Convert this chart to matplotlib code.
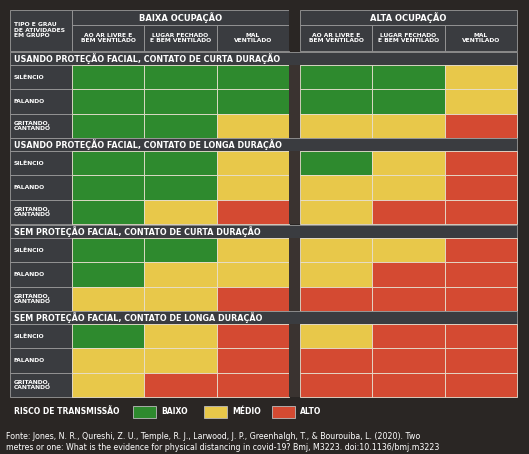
import matplotlib
matplotlib.use("Agg")
import matplotlib.pyplot as plt
from matplotlib.patches import Rectangle

groups = ["BAIXA OCUPAÇÃO", "ALTA OCUPAÇÃO"]
columns = ["AO AR LIVRE E\nBEM VENTILADO", "LUGAR FECHADO\nE BEM VENTILADO", "MAL\nVENTILADO"]
sections = ["USANDO PROTEÇÃO FACIAL, CONTATO DE CURTA DURAÇÃO",
            "USANDO PROTEÇÃO FACIAL, CONTATO DE LONGA DURAÇÃO",
            "SEM PROTEÇÃO FACIAL, CONTATO DE CURTA DURAÇÃO",
            "SEM PROTEÇÃO FACIAL, CONTATO DE LONGA DURAÇÃO"]
activities = ["SILÊNCIO", "FALANDO", "GRITANDO,\nCANTANDO"]
# 0 = baixo, 1 = médio, 2 = alto
risk = [
    [[0, 0, 0, 0, 0, 1], [0, 0, 0, 0, 0, 1], [0, 0, 1, 1, 1, 2]],
    [[0, 0, 1, 0, 1, 2], [0, 0, 1, 1, 1, 2], [0, 1, 2, 1, 2, 2]],
    [[0, 0, 1, 1, 1, 2], [0, 1, 1, 1, 2, 2], [1, 1, 2, 2, 2, 2]],
    [[0, 1, 2, 1, 2, 2], [1, 1, 2, 2, 2, 2], [1, 2, 2, 2, 2, 2]],
]
legend_labels = ["BAIXO", "MÉDIO", "ALTO"]
colors = ["#2e8a2e", "#e8c84a", "#d44a32"]
source = ("Fonte: Jones, N. R., Qureshi, Z. U., Temple, R. J., Larwood, J. P., Greenhalgh, T., & Bourouiba, L. (2020). Two\n"
          "metres or one: What is the evidence for physical distancing in covid-19? Bmj, M3223. doi:10.1136/bmj.m3223")

W, H = 529, 454
fig = plt.figure(figsize=(W / 100, H / 100), dpi=100)
fig.patch.set_facecolor("#2a2624")
ax = fig.add_axes([0, 0, 1, 1])
ax.set_xlim(0, W); ax.set_ylim(H, 0); ax.axis("off")

cell_bg = "#3a3c40"
line = "#9a9a9a"
x0, lab_w, col_w, gap = 10, 62, 72.3, 11
col_x = [x0 + lab_w + i * col_w for i in range(3)] + \
        [x0 + lab_w + 3 * col_w + gap + i * col_w for i in range(3)]
x_end = col_x[-1] + col_w

def rect(x, y, w, h, fc, ec=line, lw=0.6):
    ax.add_patch(Rectangle((x, y), w, h, facecolor=fc, edgecolor=ec, lw=lw))

# header
rect(x0, 10, lab_w, 41, cell_bg)
ax.text(x0 + 4, 30, "TIPO E GRAU\nDE ATIVIDADES\nEM GRUPO", color="white", fontsize=4.3,
        fontweight="bold", va="center", linespacing=1.1)
for g in range(2):
    gx = col_x[3 * g]
    rect(gx, 10, 3 * col_w, 15, cell_bg)
    ax.text(gx + 1.5 * col_w, 17.5, groups[g], color="white", fontsize=6, fontweight="bold",
            ha="center", va="center")
    for c in range(3):
        rect(col_x[3 * g + c], 25, col_w, 26, cell_bg)
        ax.text(col_x[3 * g + c] + col_w / 2, 38, columns[c], color="white", fontsize=4.3,
                fontweight="bold", ha="center", va="center", linespacing=1.1)
rect(col_x[2] + col_w, 10, gap, 41, "#2a2624", ec="none")

sec_y = [52, 138, 225, 311]
row_h = 24.3
for s, sy in enumerate(sec_y):
    rect(x0, sy, x_end - x0, 13, cell_bg)
    ax.text(x0 + 4, sy + 6.8, sections[s], color="white", fontsize=5.8, fontweight="bold", va="center")
    for r in range(3):
        ry = sy + 13 + r * row_h
        rect(x0, ry, lab_w, row_h, cell_bg)
        ax.text(x0 + 4, ry + row_h / 2, activities[r], color="white", fontsize=4.3,
                fontweight="bold", va="center", linespacing=1.1)
        for c in range(6):
            rect(col_x[c], ry, col_w, row_h, colors[risk[s][r][c]], ec="#e8e0d0", lw=0.6)
    rect(col_x[2] + col_w, sy + 13, gap, 3 * row_h, "#3a3330", ec="none")

# legend
ax.text(x0 + 4, 412, "RISCO DE TRANSMISSÃO", color="white", fontsize=5.5, fontweight="bold", va="center")
lx = [133, 204, 272]
for i, lab in enumerate(legend_labels):
    rect(lx[i], 406, 23, 12, colors[i], ec="#bbbbbb")
    ax.text(lx[i] + 28, 412, lab, color="white", fontsize=5.5, fontweight="bold", va="center")

ax.text(6, 442, source, color="white", fontsize=5.7, va="center", linespacing=1.3)
fig.savefig("out.png", dpi=100, facecolor=fig.get_facecolor())
